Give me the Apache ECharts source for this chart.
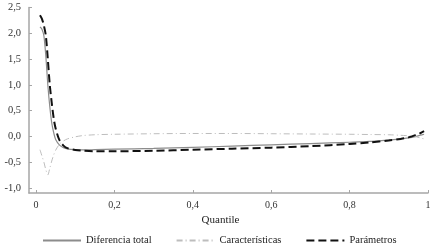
<!DOCTYPE html>
<html>
<head>
<meta charset="utf-8">
<script src="https://cdn.jsdelivr.net/npm/echarts@6/dist/echarts.min.js"></script>
<style>
  html, body { margin: 0; padding: 0; background: #fff; }
  #container { width: 434px; height: 249px; }
</style>
</head>
<body>
<div id="container"></div>
<script>
// quantiles (eje x)
var quantiles = [0.01, 0.015, 0.02, 0.025, 0.03, 0.035, 0.04, 0.045, 0.05, 0.06, 0.07, 0.08,
  0.1, 0.12, 0.15, 0.2, 0.3, 0.4, 0.5, 0.6, 0.7, 0.8, 0.85, 0.9, 0.93, 0.95, 0.97, 0.98, 0.99];
var diferenciaTotal = [2.12, 2.08, 1.95, 1.55, 1.0, 0.58, 0.26, 0.07, -0.06, -0.17, -0.22, -0.245,
  -0.26, -0.265, -0.26, -0.25, -0.235, -0.215, -0.19, -0.165, -0.14, -0.115, -0.1, -0.07, -0.05, -0.03, 0.0, 0.02, 0.04];
var caracteristicas = [-0.26, -0.38, -0.5, -0.65, -0.75, -0.62, -0.48, -0.36, -0.27, -0.15, -0.09, -0.05,
  -0.01, 0.015, 0.03, 0.04, 0.05, 0.055, 0.055, 0.05, 0.045, 0.04, 0.035, 0.03, 0.02, 0.01, -0.01, -0.03, -0.05];
var parametros = [2.35, 2.28, 2.15, 1.95, 1.5, 1.0, 0.65, 0.35, 0.15, -0.08, -0.18, -0.23,
  -0.265, -0.28, -0.29, -0.29, -0.28, -0.26, -0.24, -0.22, -0.19, -0.15, -0.12, -0.08, -0.05, -0.02, 0.03, 0.06, 0.1];
var xTicks = [0, 0.2, 0.4, 0.6, 0.8, 1];
var yTicks = [-1, -0.5, 0, 0.5, 1, 1.5, 2, 2.5];

function pares(arr){
  return quantiles.map(function(q, i){ return [q, arr[i]]; });
}
function coma(v, dec){
  return v.toFixed(dec).replace('.', ',');
}

var font = '"Liberation Serif", "DejaVu Serif", serif';
var axisCol = '#a6a6a6';

var myChart = echarts.init(document.getElementById('container'));
var option = {
  animation: false,
  textStyle: { fontFamily: font },
  grid: { left: 29, right: 6, top: 7.5, bottom: 56, containLabel: false },
  legend: {
    bottom: 3,
    left: 42,
    padding: 0,
    itemWidth: 38,
    itemHeight: 8,
    itemGap: 24,
    itemStyle: { opacity: 0 },
    textStyle: { fontFamily: font, fontSize: 10.5, color: '#222' },
    data: ['Diferencia total', 'Características', 'Parámetros']
  },
  xAxis: {
    type: 'value',
    min: -0.018,
    max: 1,
    name: 'Quantile',
    nameLocation: 'middle',
    nameGap: 22,
    nameTextStyle: { fontFamily: font, fontSize: 11, color: '#222', padding: [0, 16, 0, 0] },
    splitLine: { show: false },
    axisLine: { onZero: false, lineStyle: { color: axisCol, width: 1.5 } },
    axisTick: { inside: true, length: 3, customValues: xTicks, lineStyle: { color: axisCol } },
    axisLabel: {
      customValues: xTicks,
      margin: 7,
      fontFamily: font, fontSize: 10, color: '#333',
      formatter: function(v){ return (v === 0 || v === 1) ? String(v) : coma(v, 1); }
    }
  },
  yAxis: {
    type: 'value',
    min: -1.1,
    max: 2.5,
    splitLine: { show: false },
    axisLine: { show: true, onZero: false, lineStyle: { color: axisCol, width: 1.5 } },
    axisTick: { show: true, inside: true, length: 3, customValues: yTicks, lineStyle: { color: axisCol } },
    axisLabel: {
      customValues: yTicks,
      margin: 8,
      fontFamily: font, fontSize: 10.5, color: '#333',
      formatter: function(v){ return coma(v, 1); }
    }
  },
  series: [
    {
      name: 'Diferencia total',
      type: 'line',
      data: pares(diferenciaTotal),
      symbol: 'none',
      smooth: 0.3,
      lineStyle: { color: '#8c8c8c', width: 1.2, type: 'solid' },
      itemStyle: { color: '#8c8c8c' }
    },
    {
      name: 'Características',
      type: 'line',
      data: pares(caracteristicas),
      symbol: 'none',
      smooth: 0.3,
      lineStyle: { color: '#bdbdbd', width: 1, type: [6, 3, 1, 3] },
      itemStyle: { color: '#bdbdbd' }
    },
    {
      name: 'Parámetros',
      type: 'line',
      data: pares(parametros),
      symbol: 'none',
      smooth: 0.3,
      lineStyle: { color: '#111', width: 2, type: [8, 4] },
      itemStyle: { color: '#111' }
    }
  ]
};
myChart.setOption(option);
</script>
</body>
</html>
